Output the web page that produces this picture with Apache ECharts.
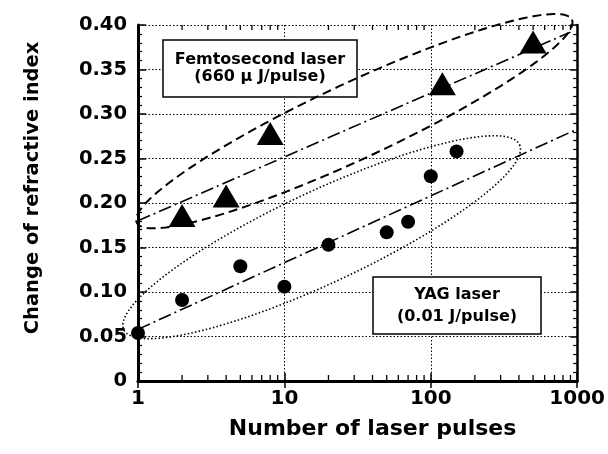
<!DOCTYPE html>
<html><head><meta charset="utf-8">
<script src="https://cdn.jsdelivr.net/npm/echarts@6/dist/echarts.min.js"></script>
<style>html,body{margin:0;padding:0;background:#fff}#c{width:608px;height:454px}</style>
</head><body><div id="c"></div>
<script>
// ---- data ----
const xTickLabels = ['1', '10', '100', '1000'];
const yTickLabels = ['0', '0.05', '0.10', '0.15', '0.20', '0.25', '0.30', '0.35', '0.40'];
const xMinorTicks = [2, 3, 4, 5, 6, 7, 8, 9, 20, 30, 40, 50, 60, 70, 80, 90, 200, 300, 400, 500, 600, 700, 800, 900];

const femtoPulses = [2, 4, 8, 120, 500];
const femtoDn = [0.186, 0.208, 0.278, 0.334, 0.381];

const yagPulses = [1, 2, 5, 10, 20, 50, 70, 100, 150];
const yagDn = [0.054, 0.091, 0.129, 0.106, 0.153, 0.167, 0.179, 0.230, 0.258];

const femtoFitPulses = [1, 900];
const femtoFitDn = [0.180, 0.392];
const yagFitPulses = [1, 1000];
const yagFitDn = [0.058, 0.283];

// ellipse end points (pulses, dn)
const femtoEllipseEnds = [[0.98, 0.178], [921, 0.406]];
const yagEllipseEnds = [[0.80, 0.0576], [404, 0.2655]];

const femtoLabel = ['Femtosecond laser', '(660 \u03bc J/pulse)'];
const yagLabel = ['YAG laser', '(0.01 J/pulse)'];

// ---- chart ----
const FONT = '"DejaVu Sans", "Liberation Sans", sans-serif';
const zip = (a, b) => a.map((v, i) => [v, b[i]]);
const chart = echarts.init(document.getElementById('c'), null, {renderer: 'canvas'});
const dotted = {color: '#000', width: 1, type: [1.5, 2]};

chart.setOption({
  animation: false,
  backgroundColor: '#fff',
  grid: {left: 138, right: 26, top: 25, bottom: 73, containLabel: false},
  xAxis: [{
    type: 'log', logBase: 10, min: 1, max: 1000, position: 'bottom',
    axisLine: {lineStyle: {color: '#000', width: 3}},
    axisTick: {inside: true, length: 8, lineStyle: {color: '#000', width: 1.5}},
    axisLabel: {color: '#000', fontFamily: FONT, fontWeight: 'bold', fontSize: 20, margin: 8,
      formatter: v => xTickLabels[Math.round(Math.log10(v))]},
    splitLine: {show: true, lineStyle: dotted},
    name: 'Number of laser pulses', nameLocation: 'middle', nameGap: 37,
    nameTextStyle: {color: '#000', fontFamily: FONT, fontWeight: 'bold', fontSize: 22, padding: [0, 0, 0, 30]}
  }, {
    type: 'log', logBase: 10, min: 1, max: 1000, position: 'top',
    axisLine: {lineStyle: {color: '#000', width: 2.5}},
    axisTick: {inside: true, length: 7, lineStyle: {color: '#000', width: 1.5}},
    axisLabel: {show: false}, splitLine: {show: false}
  }],
  yAxis: [{
    type: 'value', min: 0, max: 0.4, interval: 0.05, position: 'left',
    axisLine: {lineStyle: {color: '#000', width: 3}},
    axisTick: {inside: true, length: 8, lineStyle: {color: '#000', width: 1.5}},
    minorTick: {show: true, splitNumber: 5, length: 4, lineStyle: {color: '#000', width: 1.2}},
    axisLabel: {color: '#000', fontFamily: FONT, fontWeight: 'bold', fontSize: 19.5, margin: 11,
      formatter: v => yTickLabels[Math.round(v / 0.05)]},
    splitLine: {show: true, lineStyle: dotted},
    name: 'Change of refractive index', nameLocation: 'middle', nameGap: 95, nameRotate: 90,
    nameTextStyle: {color: '#000', fontFamily: FONT, fontWeight: 'bold', fontSize: 19.5, padding: [0, 0, 0, 30]}
  }, {
    type: 'value', min: 0, max: 0.4, interval: 0.05, position: 'right',
    axisLine: {lineStyle: {color: '#000', width: 2.5}},
    axisTick: {inside: true, length: 7, lineStyle: {color: '#000', width: 1.5}},
    minorTick: {show: true, splitNumber: 5, length: 4, lineStyle: {color: '#000', width: 1.2}},
    axisLabel: {show: false}, splitLine: {show: false}
  }],
  series: [{
    type: 'custom', xAxisIndex: 0, yAxisIndex: 0, silent: true,
    data: xMinorTicks.map(v => [v, 0]),
    renderItem: (params, api) => {
      const b = api.coord([api.value(0), 0]);
      const t = api.coord([api.value(0), 0.4]);
      return {type: 'group', children: [
        {type: 'line', shape: {x1: b[0], y1: b[1], x2: b[0], y2: b[1] - 6}, style: {stroke: '#000', lineWidth: 1.3}},
        {type: 'line', shape: {x1: t[0], y1: t[1], x2: t[0], y2: t[1] + 5}, style: {stroke: '#000', lineWidth: 1.3}}
      ]};
    }
  }, {
    name: 'Femtosecond fit', type: 'line', data: zip(femtoFitPulses, femtoFitDn), symbol: 'none',
    lineStyle: {color: '#000', width: 1.6, type: [13, 4, 2, 4]}
  }, {
    name: 'YAG fit', type: 'line', data: zip(yagFitPulses, yagFitDn), symbol: 'none',
    lineStyle: {color: '#000', width: 1.6, type: [13, 4, 2, 4]}
  }, {
    name: 'Femtosecond laser', type: 'scatter', data: zip(femtoPulses, femtoDn),
    symbol: 'triangle', symbolSize: [27, 23], itemStyle: {color: '#000', opacity: 1}, z: 5
  }, {
    name: 'YAG laser', type: 'scatter', data: zip(yagPulses, yagDn),
    symbol: 'circle', symbolSize: 14, itemStyle: {color: '#000', opacity: 1}, z: 5
  }]
});

function ellipsePoints(ends, halfWidth) {
  const p1 = chart.convertToPixel({xAxisIndex: 0, yAxisIndex: 0}, ends[0]);
  const p2 = chart.convertToPixel({xAxisIndex: 0, yAxisIndex: 0}, ends[1]);
  const cx = (p1[0] + p2[0]) / 2, cy = (p1[1] + p2[1]) / 2;
  const dx = p2[0] - p1[0], dy = p2[1] - p1[1];
  const a = Math.sqrt(dx * dx + dy * dy) / 2, ang = Math.atan2(dy, dx);
  const pts = [];
  for (let i = 0; i < 180; i++) {
    const t = 2 * Math.PI * i / 180;
    const u = a * Math.cos(t), v = halfWidth * Math.sin(t);
    pts.push([cx + u * Math.cos(ang) - v * Math.sin(ang), cy + u * Math.sin(ang) + v * Math.cos(ang)]);
  }
  return pts;
}

function labelBox(x, y, w, h, lines, y1, y2) {
  return {
    type: 'group', z: 20, children: [
      {type: 'rect', shape: {x: x, y: y, width: w, height: h}, style: {fill: '#fff', stroke: '#000', lineWidth: 1.5}},
      {type: 'text', x: x + w / 2, y: y1, style: {text: lines[0], fill: '#000', font: 'bold 16px ' + FONT, textAlign: 'center', textVerticalAlign: 'middle'}},
      {type: 'text', x: x + w / 2, y: y2, style: {text: lines[1], fill: '#000', font: 'bold 16px ' + FONT, textAlign: 'center', textVerticalAlign: 'middle'}}
    ]
  };
}

chart.setOption({
  graphic: [
    {type: 'polygon', z: 15, silent: true, shape: {points: ellipsePoints(femtoEllipseEnds, 38)},
      style: {fill: 'none', stroke: '#000', lineWidth: 2, lineDash: [9, 5]}},
    {type: 'polygon', z: 15, silent: true, shape: {points: ellipsePoints(yagEllipseEnds, 46)},
      style: {fill: 'none', stroke: '#000', lineWidth: 1.6, lineDash: [1.5, 2.2]}},
    labelBox(163, 40, 194, 57, femtoLabel, 60, 77),
    labelBox(373, 277, 168, 57, yagLabel, 294.5, 317)
  ]
});
</script>
</body></html>
